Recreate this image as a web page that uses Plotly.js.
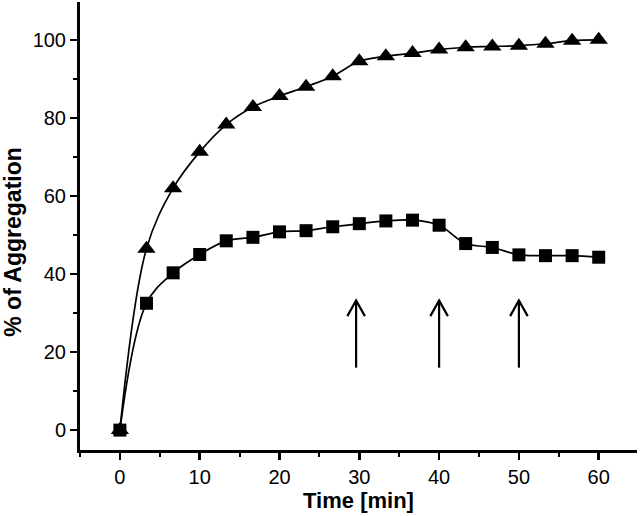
<!DOCTYPE html>
<html>
<head>
<meta charset="utf-8">
<script src="https://cdn.plot.ly/plotly-3.0.1.min.js"></script>
<style>html,body{margin:0;padding:0;background:#fff;}#chart{width:640px;height:516px;}</style>
</head>
<body>
<div id="chart"></div>
<script>
const timeMin = [0, 3.33, 6.67, 10, 13.33, 16.67, 20, 23.33, 26.67, 30, 33.33, 36.67, 40, 43.33, 46.67, 50, 53.33, 56.67, 60];
const triangleSeries = [0, 46.5, 62, 71.3, 78.3, 82.8, 85.6, 88.0, 90.7, 94.5, 95.8, 96.6, 97.5, 98.1, 98.3, 98.5, 99.0, 99.8, 100.0];
const squareSeries = [0, 32.5, 40.3, 45.0, 48.5, 49.4, 50.8, 51.1, 52.1, 52.9, 53.6, 53.8, 52.5, 47.8, 46.8, 44.9, 44.7, 44.7, 44.3];
const arrowTimes = [29.6, 40, 50];
const arrowBottom = 16;
const arrowTop = 33.2;
const xTickVals = [0, 10, 20, 30, 40, 50, 60];
const yTickVals = [0, 20, 40, 60, 80, 100];

const font = 'Arial, "Liberation Sans", Helvetica, sans-serif';

const traces = [
  {x: timeMin, y: triangleSeries, mode: 'lines+markers', type: 'scatter',
   line: {color: '#000', width: 1.7, shape: 'spline', smoothing: 1},
   marker: {symbol: 'triangle-up', size: 16, color: '#000'}, showlegend: false},
  {x: timeMin, y: squareSeries, mode: 'lines+markers', type: 'scatter',
   line: {color: '#000', width: 1.7, shape: 'spline', smoothing: 1},
   marker: {symbol: 'square', size: 13, color: '#000'}, showlegend: false}
];

const shapes = [];
arrowTimes.forEach(t => {
  shapes.push({type: 'line', xref: 'x', yref: 'y', x0: t, x1: t, y0: arrowBottom, y1: arrowTop,
               line: {color: '#000', width: 2.2}});
  shapes.push({type: 'path', xref: 'x', yref: 'y',
               path: `M ${t - 1.1} ${arrowTop - 4} L ${t} ${arrowTop} L ${t + 1.1} ${arrowTop - 4}`,
               line: {color: '#000', width: 2.2}});
});

const layout = {
  width: 640, height: 516,
  margin: {l: 80, r: 3, t: 2, b: 66},
  paper_bgcolor: '#fff', plot_bgcolor: '#fff',
  font: {family: font, color: '#000', size: 19},
  shapes: shapes,
  xaxis: {
    range: [-5, 64.8], tickvals: xTickVals, ticks: 'outside', ticklen: 7, tickwidth: 2.5,
    tickcolor: '#000', showline: true, linewidth: 3, linecolor: '#000', showgrid: false, zeroline: false,
    tickfont: {size: 20, family: font},
    minor: {dtick: 5, tick0: 5, ticks: 'outside', ticklen: 4, tickwidth: 2, tickcolor: '#000', showgrid: false},
    title: {text: '<b>Time [min]</b>', font: {size: 22, family: font}, standoff: 4}
  },
  yaxis: {
    range: [-5.1, 109.7], tickvals: yTickVals, ticks: 'outside', ticklen: 7, tickwidth: 2.5,
    tickcolor: '#000', showline: true, linewidth: 3, linecolor: '#000', showgrid: false, zeroline: false,
    tickfont: {size: 20, family: font},
    minor: {dtick: 20, tick0: 10, ticks: 'outside', ticklen: 4, tickwidth: 2, tickcolor: '#000', showgrid: false},
    title: {text: '<b>% of Aggregation</b>&nbsp;&nbsp;&nbsp;&nbsp;&nbsp;', font: {size: 23, family: font}, standoff: 8}
  }
};

Plotly.newPlot('chart', traces, layout, {staticPlot: true, displayModeBar: false});
</script>
</body>
</html>
